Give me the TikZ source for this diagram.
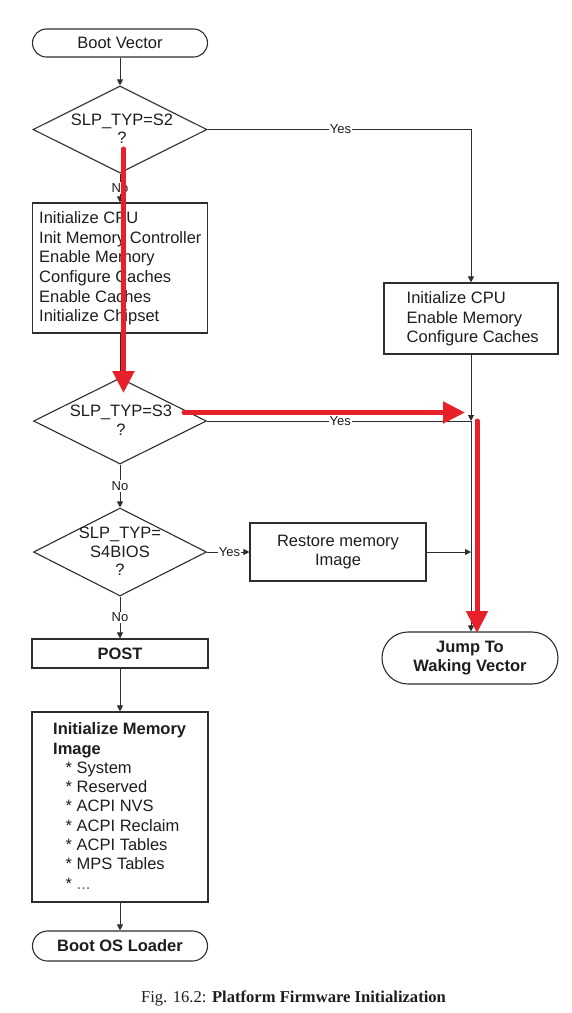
\documentclass[tikz,border=0pt]{standalone}
\usepackage{fontspec}
\setmainfont{Liberation Sans}
\newfontfamily\capfont{Liberation Serif}
\usetikzlibrary{shapes.geometric,arrows.meta}
\definecolor{ln}{HTML}{2E2E2E}
\definecolor{tx}{HTML}{1E1E1E}
\definecolor{redarr}{HTML}{E8202A}
\begin{document}
\begin{tikzpicture}[x=1pt,y=-1pt,
  every node/.style={text=tx},
  bigfont/.style={font=\fontsize{16.5}{19.6}\selectfont},
  box/.style={draw=ln,line width=1.1pt,rectangle,inner sep=0pt,bigfont},
  term/.style={box},
  dia/.style={draw=ln,line width=1.1pt,diamond,inner sep=0pt},
  dtext/.style={align=center,inner sep=0pt,font=\fontsize{16.5}{18.5}\selectfont},
  btext/.style={align=left,inner sep=0pt,anchor=west,bigfont},
  arr/.style={draw=ln,line width=1pt,-{Triangle[length=6pt,width=6pt]}},
  plain/.style={draw=ln,line width=1pt},
  lbl/.style={fill=white,inner sep=1pt,font=\fontsize{13}{14}\selectfont},
  redarrow/.style={draw=redarr,line width=5pt,line cap=round,-{Triangle[length=22pt,width=21pt]}}
]
\useasboundingbox (0,0) rectangle (571,1013);
\fill[white] (0,0) rectangle (571,1013);

% left column
\node[term,rounded corners=14pt,minimum width=175pt,minimum height=28pt] (bv) at (120,43) {Boot Vector};
\node[dia,minimum width=174pt,minimum height=87pt] (d2) at (120,129.5) {};
\node[dtext] (d2t) at (122,128.5) {SLP\_TYP=S2\\?};
\node[box,minimum width=175pt,minimum height=130pt] (b1) at (120,268) {};
\node[btext] (b1t) at (39,268.5) {Initialize CPU\\Init Memory Controller\\Enable Memory\\Configure Caches\\Enable Caches\\Initialize Chipset};
\node[dia,minimum width=173pt,minimum height=86pt] (d3) at (120,421) {};
\node[dtext] (d3t) at (121,420) {SLP\_TYP=S3\\?};
\node[dia,minimum width=173pt,minimum height=88pt] (d4) at (120,552) {};
\node[dtext] (d4t) at (120,551.5) {SLP\_TYP=\\S4BIOS\\?};
\node[box,minimum width=176pt,minimum height=29pt,font=\fontsize{16.5}{19.6}\selectfont\bfseries] (post) at (120,653.5) {POST};
\node[box,minimum width=176pt,minimum height=190pt] (im) at (120,807) {};
\node[btext,font=\fontsize{16.5}{19.3}\selectfont] (imt) at (53,806) {\textbf{Initialize Memory}\\\textbf{Image}\\
\hspace*{12.5pt}* System\\\hspace*{12.5pt}* Reserved\\\hspace*{12.5pt}* ACPI NVS\\\hspace*{12.5pt}* ACPI Reclaim\\\hspace*{12.5pt}* ACPI Tables\\\hspace*{12.5pt}* MPS Tables\\\hspace*{12.5pt}* \textcolor{tx!70}{...}};
\node[term,rounded corners=15pt,minimum width=175pt,minimum height=30pt,font=\fontsize{16.5}{19.6}\selectfont\bfseries] (bos) at (120,946) {Boot OS Loader};

% right column
\node[box,minimum width=174pt,minimum height=71pt] (b2) at (471,318.5) {};
\node[btext] (b2t) at (406.5,319) {Initialize CPU\\Enable Memory\\Configure Caches};
\node[box,minimum width=176pt,minimum height=58pt,align=center] (rm) at (338,552) {Restore memory\\Image};
\node[term,rounded corners=26pt,minimum width=176pt,minimum height=52pt,align=center,font=\fontsize{16.5}{19.6}\selectfont\bfseries] (jv) at (470,658) {Jump To\\Waking Vector};

\coordinate (j1) at (b2.south |- d3.east);

% connectors
\draw[arr] (bv.south) -- (d2.north);
\draw[arr] (d2.south) -- node[lbl,pos=0.5]{No} (b1.north);
\draw[arr] (d2.east) -- node[lbl,pos=0.505]{Yes} (d2.east -| b2.north) -- (b2.north);
\draw[arr] (b1.south) -- (d3.north);
\draw[arr] (b2.south) -- (j1);
\draw[plain] (d3.east) -- node[lbl,pos=0.505]{Yes} (j1);
\draw[arr] (j1) -- (j1 |- jv.north);
\draw[arr] (d3.south) -- node[lbl,pos=0.5]{No} (d4.north);
\draw[arr] (d4.east) -- node[lbl,pos=0.53]{Yes} (rm.west);
\draw[arr] (rm.east) -- (rm.east -| j1);
\draw[arr] (d4.south) -- node[lbl,pos=0.5]{No} (post.north);
\draw[arr] (post.south) -- (im.north);
\draw[arr] (im.south) -- (bos.north);

% red highlight arrows
\coordinate (r1s) at (123.5,149);
\coordinate (r1e) at (123.5,393);
\coordinate (r2s) at (184,412.5);
\coordinate (r2e) at (465,412.5);
\coordinate (r3s) at (477,421);
\coordinate (r3e) at (477,633);
\draw[redarrow] (r1s) -- (r1e);
\draw[redarrow] (r2s) -- (r2e);
\draw[redarrow] (r3s) -- (r3e);

% caption
\node[inner sep=0pt,font=\fontsize{16.6}{19}\capfont] (cap) at (293.5,998) {Fig. 16.2: \textbf{Platform Firmware Initialization}};
\end{tikzpicture}
\end{document}
